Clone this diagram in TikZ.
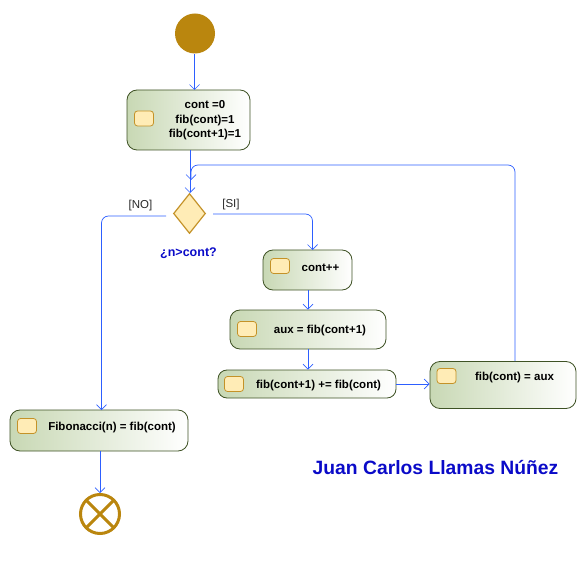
\documentclass[tikz,border=0pt]{standalone}
\usepackage{fontspec}
\setmainfont{Liberation Sans}
\usetikzlibrary{arrows.meta,shapes.geometric,calc}
\definecolor{gold}{RGB}{186,134,14}
\definecolor{flow}{RGB}{45,95,255}
\definecolor{boxedge}{RGB}{62,82,36}
\definecolor{boxleft}{RGB}{200,216,180}
\definecolor{iconfill}{RGB}{255,236,182}
\definecolor{iconedge}{RGB}{196,146,40}
\definecolor{dkblue}{RGB}{10,10,200}
\definecolor{lblcol}{RGB}{40,40,40}
\tikzset{
  actbox/.style={draw=boxedge, line width=0.8pt, rounded corners=10pt, left color=boxleft, right color=white, inner sep=0pt},
  icon/.style={draw=iconedge, line width=0.8pt, fill=iconfill, rounded corners=3pt, minimum width=19pt, minimum height=15pt, inner sep=0pt},
  acttext/.style={font=\fontsize{11.5}{14.5}\selectfont\bfseries, align=center, inner sep=0pt, text=black, yshift=-1.5pt},
  flowline/.style={draw=flow, line width=0.7pt, -{Straight Barb[length=5pt,width=10pt]}},
  guard/.style={font=\fontsize{11.5}{13}\selectfont, text=lblcol, inner sep=0pt, yshift=-1pt}
}
\begin{document}
\begin{tikzpicture}[x=1pt,y=-1pt]
\useasboundingbox (0,0) rectangle (586,569);
% start
\node[circle, fill=gold, minimum size=40pt, inner sep=0pt] (start) at (195,33.5) {};
% box 1
\node[actbox, minimum width=123pt, minimum height=60pt] (b1) at (188.5,120) {};
\node[icon] (i1) at (144,118.5) {};
\node[acttext] (t1) at (205,119) {cont =0\\fib(cont)=1\\fib(cont+1)=1};
% decision
\node[diamond, draw=iconedge, fill=iconfill, line width=1.2pt, minimum width=32pt, minimum height=40pt, inner sep=0pt, aspect=0.8] (dia) at (189.5,213.5) {};
\node[font=\fontsize{12.5}{14}\selectfont\bfseries, text=dkblue, inner sep=0pt] (q) at (188.5,253.5) {¿n>cont?};
\node[guard] (no) at (140.5,205) {[NO]};
\node[guard] (si) at (231,204) {[SI]};
% cont++
\node[actbox, minimum width=89pt, minimum height=40pt] (b2) at (307.5,270) {};
\node[icon] (i2) at (280,266) {};
\node[acttext] (t2) at (320.5,266) {cont++};
% aux
\node[actbox, minimum width=156pt, minimum height=39pt] (b3) at (308,329.5) {};
\node[icon] (i3) at (247,329) {};
\node[acttext] (t3) at (320,329) {aux = fib(cont+1)};
% fib(cont+1) += fib(cont)
\node[actbox, minimum width=178pt, minimum height=28pt, rounded corners=9pt] (b4) at (307,384) {};
\node[icon] (i4) at (234,384) {};
\node[acttext] (t4) at (318.5,384) {fib(cont+1) += fib(cont)};
% fib(cont) = aux
\node[actbox, minimum width=146pt, minimum height=47pt] (b5) at (503,385) {};
\node[icon] (i5) at (446.5,376) {};
\node[acttext] (t5) at (514.5,376) {fib(cont) = aux};
% Fibonacci
\node[actbox, minimum width=178pt, minimum height=41pt] (b6) at (99,430.5) {};
\node[icon] (i6) at (27,426) {};
\node[acttext] (t6) at (112,426) {Fibonacci(n) = fib(cont)};
% end
\node[circle, draw=gold, line width=3pt, minimum size=39pt, inner sep=0pt] (end) at (100,514) {};
\draw[gold, line width=3pt] ($(end.center)+(45:19pt)$) -- ($(end.center)+(225:19pt)$);
\draw[gold, line width=3pt] ($(end.center)+(135:19pt)$) -- ($(end.center)+(315:19pt)$);
% author
\node[font=\fontsize{19.3}{22}\selectfont\bfseries, text=dkblue, inner sep=0pt] (auth) at (435.5,468) {Juan Carlos Llamas Núñez};
% connector points
\coordinate (s0) at (194.5,54);
\coordinate (s1) at (194.5,90);
\coordinate (c0) at (190,150);
\coordinate (c1) at (190,193);
\coordinate (l0) at (515,361);
\coordinate (l1) at (515,165);
\coordinate (l2) at (191,165);
\coordinate (l3) at (191,180);
\coordinate (n0) at (166,216);
\coordinate (n1) at (101.5,216);
\coordinate (n2) at (101.5,410);
\coordinate (y0) at (213,214);
\coordinate (y1) at (312.5,214);
\coordinate (y2) at (312.5,250);
\coordinate (e0) at (100,451);
% connectors
\draw[flowline] (s0) -- (s1);
\draw[flowline] (c0) -- (c1);
\draw[flowline, rounded corners=7pt] (l0) -- (l1) -- (l2) -- (l3);
\draw[flowline, rounded corners=7pt] (n0) -- (n1) -- (n2);
\draw[flowline, rounded corners=7pt] (y0) -- (y1) -- (y2);
\draw[flowline] (b2.south -| b3.north) -- (b3.north);
\draw[flowline] (b3.south) -- (b3.south |- b4.north);
\draw[flowline] (b4.east) -- (b4.east -| b5.west);
\draw[flowline] (e0) -- (end.north);
\end{tikzpicture}
\end{document}
